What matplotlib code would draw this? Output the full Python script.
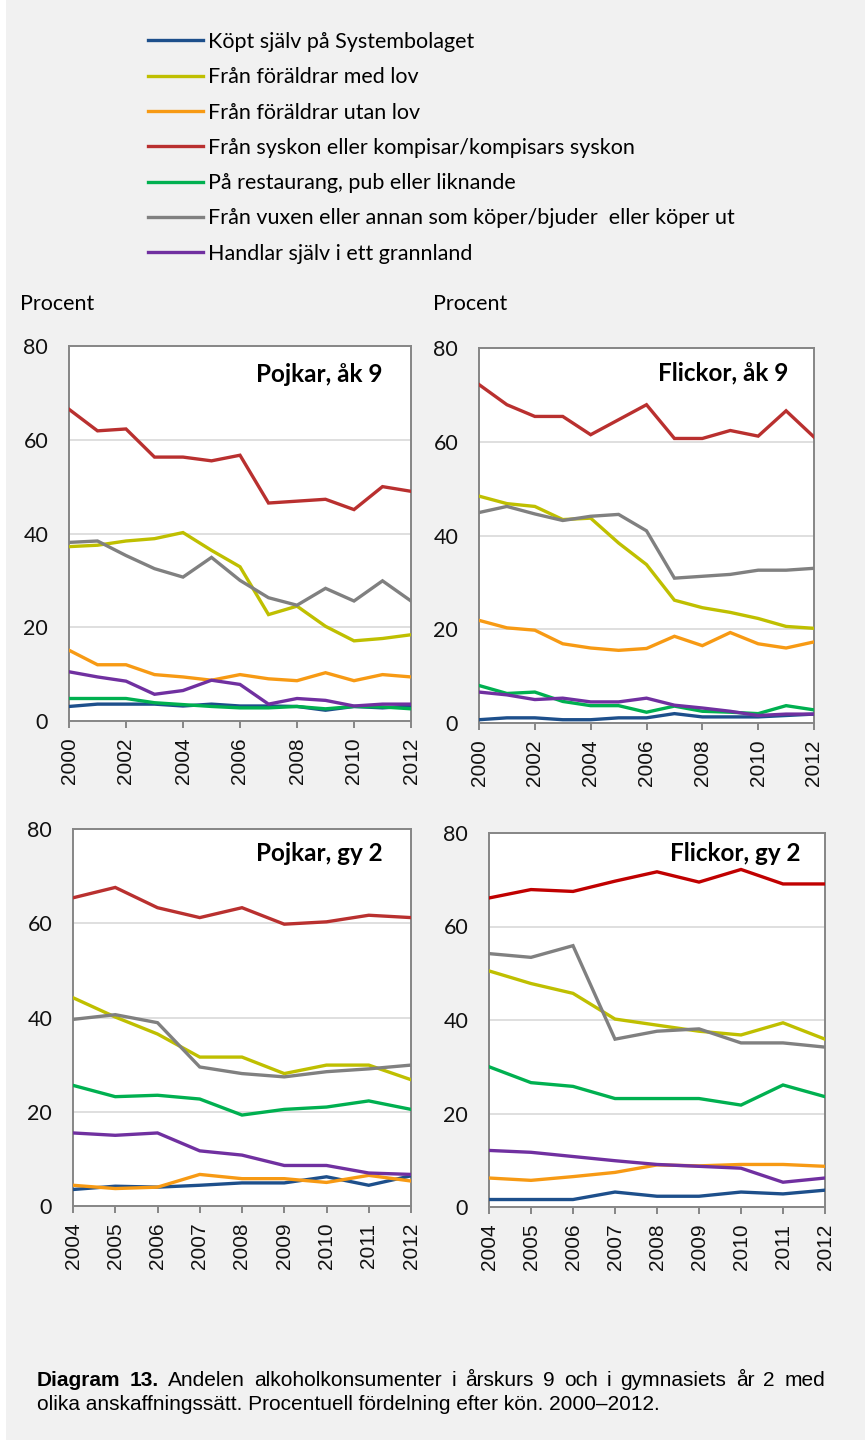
import matplotlib
matplotlib.use("Agg")
import matplotlib.pyplot as plt
from matplotlib.patches import Rectangle

plt.rcParams['font.family'] = ['Lato', 'DejaVu Sans']

# serier i legendens ordning
serier = ["Köpt själv på Systembolaget",
          "Från föräldrar med lov",
          "Från föräldrar utan lov",
          "Från syskon eller kompisar/kompisars syskon",
          "På restaurang, pub eller liknande",
          "Från vuxen eller annan som köper/bjuder  eller köper ut",
          "Handlar själv i ett grannland"]
farger = ["#1d4f8b", "#bfbf00", "#f79a14", "#b9302f", "#00b050", "#808080", "#7030a0"]

ar_ak9 = list(range(2000, 2013))
ar_gy2 = list(range(2004, 2013))

pojkar_ak9 = [
    [3.1, 3.6, 3.6, 3.6, 3.2, 3.6, 3.2, 3.2, 3.1, 2.3, 3.1, 2.8, 3.2],
    [37.2, 37.5, 38.4, 38.9, 40.2, 36.4, 32.9, 22.7, 24.5, 20.2, 17.1, 17.6, 18.4],
    [15.1, 12.0, 12.0, 9.9, 9.4, 8.7, 9.9, 9.0, 8.6, 10.3, 8.6, 9.9, 9.4],
    [66.5, 61.9, 62.3, 56.3, 56.3, 55.5, 56.7, 46.5, 46.9, 47.3, 45.1, 50.0, 49.0],
    [4.8, 4.8, 4.8, 3.9, 3.5, 3.1, 2.8, 2.8, 3.1, 2.6, 3.1, 3.0, 2.6],
    [38.1, 38.4, 35.3, 32.5, 30.7, 34.9, 30.0, 26.3, 24.7, 28.3, 25.6, 29.9, 25.6],
    [10.5, 9.4, 8.5, 5.7, 6.5, 8.7, 7.8, 3.6, 4.8, 4.4, 3.2, 3.6, 3.6],
]
flickor_ak9 = [
    [0.7, 1.1, 1.1, 0.7, 0.7, 1.1, 1.1, 2.0, 1.3, 1.3, 1.3, 1.6, 1.9],
    [48.4, 46.8, 46.2, 43.4, 43.7, 38.4, 33.8, 26.2, 24.6, 23.6, 22.3, 20.6, 20.2],
    [21.9, 20.3, 19.8, 16.9, 16.0, 15.5, 15.9, 18.5, 16.5, 19.3, 16.9, 16.0, 17.3],
    [72.2, 67.9, 65.4, 65.4, 61.5, 64.7, 67.9, 60.7, 60.7, 62.4, 61.2, 66.6, 61.0],
    [8.0, 6.3, 6.6, 4.6, 3.7, 3.7, 2.3, 3.6, 2.5, 2.3, 2.0, 3.7, 2.8],
    [44.9, 46.2, 44.6, 43.2, 44.1, 44.5, 41.0, 30.9, 31.3, 31.7, 32.6, 32.6, 33.0],
    [6.6, 6.0, 5.0, 5.3, 4.5, 4.5, 5.3, 3.8, 3.2, 2.5, 1.6, 1.9, 1.9],
]
pojkar_gy2 = [
    [3.5, 4.2, 4.0, 4.4, 4.9, 4.9, 6.2, 4.4, 6.4],
    [44.2, 40.1, 36.5, 31.6, 31.6, 28.1, 29.9, 29.9, 26.8],
    [4.4, 3.7, 4.0, 6.7, 5.8, 5.8, 5.0, 6.5, 5.3],
    [65.4, 67.6, 63.3, 61.2, 63.3, 59.8, 60.3, 61.7, 61.2],
    [25.6, 23.2, 23.5, 22.7, 19.3, 20.5, 21.0, 22.3, 20.5],
    [39.6, 40.6, 38.9, 29.5, 28.1, 27.4, 28.5, 29.1, 29.9],
    [15.5, 15.0, 15.5, 11.7, 10.8, 8.6, 8.6, 7.0, 6.7],
]
flickor_gy2 = [
    [1.6, 1.6, 1.6, 3.2, 2.3, 2.3, 3.2, 2.8, 3.6],
    [50.5, 47.8, 45.7, 40.2, 38.9, 37.6, 36.8, 39.4, 35.9],
    [6.2, 5.7, 6.5, 7.4, 9.0, 8.8, 9.1, 9.1, 8.7],
    [66.1, 67.9, 67.5, 69.7, 71.7, 69.5, 72.2, 69.1, 69.1],
    [30.0, 26.6, 25.8, 23.2, 23.2, 23.2, 21.8, 26.1, 23.6],
    [54.2, 53.4, 55.9, 35.9, 37.6, 38.1, 35.1, 35.1, 34.2],
    [12.1, 11.7, 10.8, 9.9, 9.1, 8.7, 8.3, 5.3, 6.2],
]

W, H = 865, 1440
fig = plt.figure(figsize=(W / 100, H / 100), dpi=100, facecolor="#f1f1f1")
fig.patches.append(Rectangle((0, 0), 6 / W, 1, transform=fig.transFigure,
                             facecolor="white", edgecolor="none"))

arial = ['Liberation Sans', 'DejaVu Sans']


def ax_px(l, t, r, b):
    return fig.add_axes([l / W, 1 - b / H, (r - l) / W, (b - t) / H])


paneler = [
    (ax_px(69, 346, 411, 721), ar_ak9, pojkar_ak9, "Pojkar, åk 9", (0.918, 0.923), 2, None),
    (ax_px(479, 348, 814, 723), ar_ak9, flickor_ak9, "Flickor, åk 9", (0.925, 0.933), 2, None),
    (ax_px(73, 829, 411, 1206), ar_gy2, pojkar_gy2, "Pojkar, gy 2", (0.917, 0.934), 1, None),
    (ax_px(489, 833, 825, 1207), ar_gy2, flickor_gy2, "Flickor, gy 2", (0.926, 0.944), 1, "#c00000"),
]

handles = []
for ax, ar, data, titel, (tx, ty), steg, rod in paneler:
    ax.set_facecolor("white")
    for i, vals in enumerate(data):
        c = farger[i]
        if i == 3 and rod:
            c = rod
        ln, = ax.plot(ar, vals, color=c, lw=2.4, solid_joinstyle="miter", zorder=3)
        if len(handles) < len(serier):
            handles.append(ln)
    ax.set_xlim(ar[0], ar[-1])
    ax.set_ylim(0, 80)
    ax.set_yticks([0, 20, 40, 60, 80])
    ax.set_xticks(ar[::steg])
    ax.set_xticklabels([str(a) for a in ar[::steg]], rotation=90, family=arial)
    ax.grid(axis="y", color="#d9d9d9", lw=1.2)
    ax.set_axisbelow(True)
    for s in ax.spines.values():
        s.set_color("#868686")
        s.set_linewidth(1.4)
    ax.tick_params(axis="y", length=0, pad=15, labelsize=15.5, colors="#111111")
    ax.tick_params(axis="x", length=5, width=1.4, color="#868686", pad=7,
                   labelsize=15, labelcolor="#111111")
    ax.text(tx, ty, titel, transform=ax.transAxes, ha="right", va="center",
            fontsize=17.5, fontweight="bold", color="black")

fig.legend(handles, serier, loc="upper left", bbox_to_anchor=(148 / W, 1 - 32 / H),
           frameon=False, fontsize=15.5, handlelength=2.56, handletextpad=0.23,
           labelspacing=0.71, borderaxespad=0, borderpad=0)

fig.text(20 / W, 1 - 304 / H, "Procent", fontsize=15.5, va="center", ha="left")
fig.text(433 / W, 1 - 304 / H, "Procent", fontsize=15.5, va="center", ha="left")

# bildtext, första raden utjämnad mellan 37 och 825 px
fs = 15
ord1 = [("Diagram", "bold"), ("13.", "bold")] + \
       [(w, "normal") for w in "Andelen alkoholkonsumenter i årskurs 9 och i gymnasiets år 2 med".split()]
fig.canvas.draw()
r = fig.canvas.get_renderer()
texter = []
for w, vikt in ord1:
    t = fig.text(0, 1 - 1381 / H, w, fontsize=fs, fontweight=vikt, family=arial,
                 va="center", ha="left")
    texter.append(t)
bredder = [t.get_window_extent(r).width for t in texter]
mellan = (825 - 37 - sum(bredder)) / (len(texter) - 1)
x = 37
for t, b in zip(texter, bredder):
    t.set_x(x / W)
    x += b + mellan
fig.text(37 / W, 1 - 1404 / H,
         "olika anskaffningssätt. Procentuell fördelning efter kön. 2000\u20132012.",
         fontsize=fs, family=arial, va="center", ha="left")

fig.savefig("out.png", dpi=100, facecolor=fig.get_facecolor())
